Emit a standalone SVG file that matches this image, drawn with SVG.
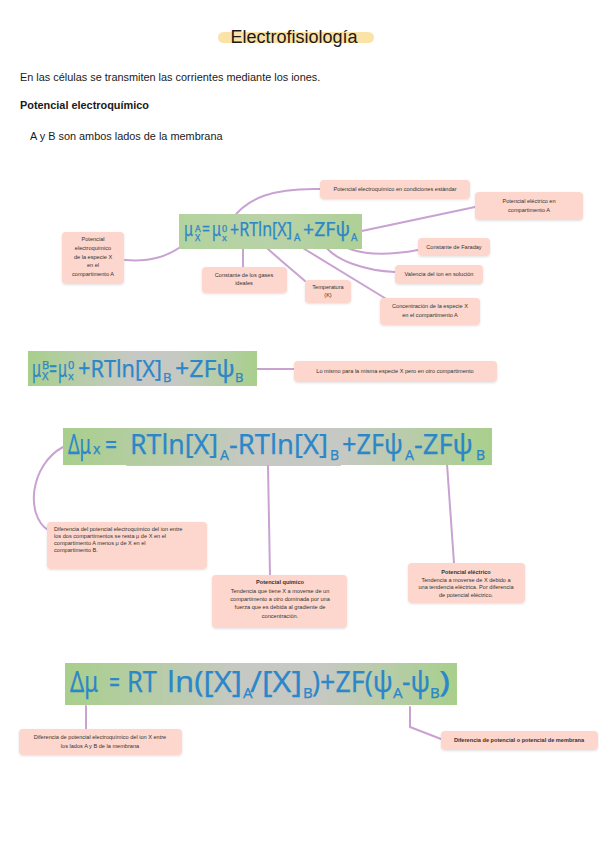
<svg xmlns="http://www.w3.org/2000/svg" width="599" height="848" viewBox="0 0 599 848">
<defs>
<linearGradient id="g1" x1="0" y1="0" x2="1" y2="0">
<stop offset="0" stop-color="#a8cf8c"/><stop offset="0.45" stop-color="#c6c9c3"/><stop offset="0.65" stop-color="#c6c9c3"/><stop offset="1" stop-color="#a8cf8c"/>
</linearGradient>
<linearGradient id="g0" x1="0" y1="0" x2="1" y2="0">
<stop offset="0" stop-color="#b3d39e"/><stop offset="0.5" stop-color="#b9d2a8"/><stop offset="1" stop-color="#aed096"/>
</linearGradient>
<filter id="sh" x="-10%" y="-10%" width="120%" height="130%"><feDropShadow dx="0" dy="1" stdDeviation="0.8" flood-color="#000" flood-opacity="0.12"/></filter>
</defs>
<style>
.body{font-family:"Liberation Sans",Arial,sans-serif;fill:#1a1a1a}
.box{fill:#fdd7cd;filter:url(#sh)}
.lbl{font-family:"Liberation Sans",Arial,sans-serif;font-size:5.6px;fill:#333}
.lb{font-weight:bold}
.f{font-family:"Noto Sans","Open Sans",sans-serif;fill:#2c87c9;stroke:#2c87c9;stroke-width:0.25}
.con{fill:none;stroke:#c9a2d2;stroke-width:2;stroke-linecap:round}
.br{fill:none;stroke:#c9a2d2;stroke-width:1.6}
</style>
<rect width="599" height="848" fill="#fff"/>

<g id="title">
<rect x="218" y="32" width="156" height="11" rx="5.5" fill="#fbe2a6"/>
<text class="body" x="294" y="43" font-size="18" text-anchor="middle">Electrofisiología</text>
</g>
<text class="body" x="20" y="81" font-size="10.9">En las células se transmiten las corrientes mediante los iones.</text>
<text class="body" x="20" y="109" font-size="10.9" font-weight="bold">Potencial electroquímico</text>
<text class="body" x="30" y="140" font-size="10.9">A y B son ambos lados de la membrana</text>

<g id="connectors">
<path class="con" d="M125 260 C150 262 168 257 186 243"/>
<path class="con" d="M232 219 C248 198 272 188 320 189"/>
<path class="con" d="M357 232 L475 207"/>
<path class="con" d="M333 238 C350 256 385 256 418 250"/>
<path class="con" d="M322 241 C332 262 370 271 395 272"/>
<path class="con" d="M243 248 L243 267"/>
<path class="con" d="M256 238 C275 256 290 268 305 281"/>
<path class="con" d="M293 242 L388 300"/>
<path class="con" d="M257 369 L295 369"/>
<path class="br" d="M127 454 L127 465 L340 465 L340 452"/>
<path class="br" d="M351 461 L351 463.5 L485 463.5 L485 455"/>
<path class="con" d="M268 466 L270 575"/>
<path class="con" d="M447 464 L454 563"/>
<path class="con" d="M63 447 C30 465 25 515 48 530"/>
<path class="con" d="M86 706 L86 730"/>
<path class="con" d="M410 707 L410 727 L441 739"/>
</g>

<g id="formula1">
<rect x="179" y="214" width="183" height="35" fill="url(#g0)"/>
<text class="f" x="184" y="236" font-size="19" textLength="9" lengthAdjust="spacingAndGlyphs">μ</text>
<text class="f" x="195" y="232" font-size="9">A</text>
<text class="f" x="195" y="241" font-size="9">X</text>
<text class="f" x="202" y="236" font-size="19" textLength="8" lengthAdjust="spacingAndGlyphs">=</text>
<text class="f" x="212" y="236" font-size="19" textLength="9" lengthAdjust="spacingAndGlyphs">μ</text>
<text class="f" x="222" y="232" font-size="9">0</text>
<text class="f" x="222" y="241" font-size="9">x</text>
<text class="f" x="230" y="236" font-size="19" textLength="62" lengthAdjust="spacingAndGlyphs">+RTln[X]</text>
<text class="f" x="294" y="241" font-size="10">A</text>
<text class="f" x="303" y="236" font-size="19" textLength="47" lengthAdjust="spacingAndGlyphs">+ZFψ</text>
<text class="f" x="351" y="241" font-size="10">A</text>
</g>

<g id="n-mu-a">
<rect class="box" x="62" y="232" width="62" height="52" rx="4"/>
<text class="lbl" text-anchor="middle"><tspan x="93" y="241">Potencial</tspan><tspan x="93" y="250">electroquímico</tspan><tspan x="93" y="259">de la especie X</tspan><tspan x="93" y="267">en el</tspan><tspan x="93" y="276">compartimento A</tspan></text>
</g>
<g id="n-std">
<rect class="box" x="320" y="180" width="150" height="19" rx="4"/>
<text class="lbl" x="395" y="191" text-anchor="middle">Potencial electroquímico en condiciones estándar</text>
</g>
<g id="n-psi">
<rect class="box" x="475" y="192" width="108" height="28" rx="4"/>
<text class="lbl" text-anchor="middle"><tspan x="529" y="203">Potencial eléctrico en</tspan><tspan x="529" y="212">compartimento A</tspan></text>
</g>
<g id="n-faraday">
<rect class="box" x="418" y="238" width="72" height="18" rx="4"/>
<text class="lbl" x="454" y="249" text-anchor="middle">Constante de Faraday</text>
</g>
<g id="n-valencia">
<rect class="box" x="395" y="265" width="88" height="19" rx="4"/>
<text class="lbl" x="439" y="276" text-anchor="middle">Valencia del ion en solución</text>
</g>
<g id="n-gases">
<rect class="box" x="202" y="267" width="85" height="26" rx="4"/>
<text class="lbl" text-anchor="middle"><tspan x="244" y="277">Constante de los gases</tspan><tspan x="244" y="285">ideales</tspan></text>
</g>
<g id="n-temp">
<rect class="box" x="305" y="280" width="46" height="23" rx="4"/>
<text class="lbl" text-anchor="middle"><tspan x="328" y="289">Temperatura</tspan><tspan x="328" y="297">(K)</tspan></text>
</g>
<g id="n-conc">
<rect class="box" x="380" y="298" width="100" height="27" rx="4"/>
<text class="lbl" text-anchor="middle"><tspan x="430" y="308">Concentración de la especie X</tspan><tspan x="430" y="317">en el compartimento A</tspan></text>
</g>

<g id="formula2">
<rect x="28" y="351" width="229" height="35" fill="url(#g1)"/>
<text class="f" x="32" y="377" font-size="23" textLength="9" lengthAdjust="spacingAndGlyphs">μ</text>
<text class="f" x="42" y="369" font-size="11">B</text>
<text class="f" x="42" y="380" font-size="11">X</text>
<text class="f" x="49" y="377" font-size="23" textLength="8" lengthAdjust="spacingAndGlyphs">=</text>
<text class="f" x="58" y="377" font-size="23" textLength="9" lengthAdjust="spacingAndGlyphs">μ</text>
<text class="f" x="68" y="369" font-size="11">0</text>
<text class="f" x="68" y="380" font-size="11">x</text>
<text class="f" x="78" y="377" font-size="23" textLength="84" lengthAdjust="spacingAndGlyphs">+RTln[X]</text>
<text class="f" x="163" y="382" font-size="13">B</text>
<text class="f" x="175" y="377" font-size="23" textLength="60" lengthAdjust="spacingAndGlyphs">+ZFψ</text>
<text class="f" x="235" y="382" font-size="13">B</text>
</g>
<g id="n-same">
<rect class="box" x="294" y="361" width="203" height="21" rx="4"/>
<text class="lbl" x="395" y="373" text-anchor="middle">Lo mismo para la misma especie X pero en otro compartimento</text>
</g>

<g id="formula3">
<rect x="63" y="428" width="429" height="37" fill="url(#g1)"/>
<text class="f" x="68" y="454" font-size="27" textLength="23" lengthAdjust="spacingAndGlyphs">Δμ</text>
<text class="f" x="93" y="454" font-size="14">x</text>
<text class="f" x="105" y="454" font-size="27" textLength="12" lengthAdjust="spacingAndGlyphs">=</text>
<text class="f" x="130" y="454" font-size="27" textLength="88" lengthAdjust="spacingAndGlyphs">RTln[X]</text>
<text class="f" x="220" y="460" font-size="14">A</text>
<text class="f" x="229" y="454" font-size="27" textLength="99" lengthAdjust="spacingAndGlyphs">-RTln[X]</text>
<text class="f" x="330" y="460" font-size="14">B</text>
<text class="f" x="342" y="454" font-size="27" textLength="61" lengthAdjust="spacingAndGlyphs">+ZFψ</text>
<text class="f" x="405" y="460" font-size="14">A</text>
<text class="f" x="414" y="454" font-size="27" textLength="59" lengthAdjust="spacingAndGlyphs">-ZFψ</text>
<text class="f" x="476" y="460" font-size="14">B</text>
</g>
<g id="n-diff">
<rect class="box" x="47" y="522" width="160" height="47" rx="4"/>
<text class="lbl"><tspan x="54" y="531">Diferencia del potencial electroquímico del ion entre</tspan><tspan x="54" y="538">los dos compartimentos se resta μ de X en el</tspan><tspan x="54" y="545">compartimento A menos μ de X en el</tspan><tspan x="54" y="552">compartimento B.</tspan></text>
</g>
<g id="n-quim">
<rect class="box" x="212" y="575" width="135" height="53" rx="4"/>
<text class="lbl" text-anchor="middle"><tspan x="280" y="584" class="lb">Potencial químico</tspan><tspan x="280" y="593">Tendencia que tiene X a moverse de un</tspan><tspan x="280" y="601">compartimento a otro dominada por una</tspan><tspan x="280" y="609">fuerza que es debida al gradiente de</tspan><tspan x="280" y="618">concentración.</tspan></text>
</g>
<g id="n-elec">
<rect class="box" x="408" y="563" width="117" height="40" rx="4"/>
<text class="lbl" text-anchor="middle"><tspan x="466" y="574" class="lb">Potencial eléctrico</tspan><tspan x="466" y="582">Tendencia a moverse de X debido a</tspan><tspan x="466" y="589">una tendencia eléctrica. Por diferencia</tspan><tspan x="466" y="597">de potencial eléctrico.</tspan></text>
</g>

<g id="formula4">
<rect x="65" y="663" width="392" height="42" fill="url(#g1)"/>
<text class="f" x="70" y="692" font-size="29" textLength="28" lengthAdjust="spacingAndGlyphs">Δμ</text>
<text class="f" x="109" y="692" font-size="29" textLength="11" lengthAdjust="spacingAndGlyphs">=</text>
<text class="f" x="127" y="692" font-size="29" textLength="30" lengthAdjust="spacingAndGlyphs">RT</text>
<text class="f" x="167" y="692" font-size="29" textLength="75" lengthAdjust="spacingAndGlyphs">ln([X]</text>
<text class="f" x="243" y="698" font-size="15">A</text>
<text class="f" x="250" y="692" font-size="29" textLength="52" lengthAdjust="spacingAndGlyphs">/[X]</text>
<text class="f" x="303" y="698" font-size="15">B</text>
<text class="f" x="312" y="692" font-size="29" textLength="81" lengthAdjust="spacingAndGlyphs">)+ZF(ψ</text>
<text class="f" x="393" y="698" font-size="15">A</text>
<text class="f" x="402" y="692" font-size="29" textLength="28" lengthAdjust="spacingAndGlyphs">-ψ</text>
<text class="f" x="430" y="698" font-size="15">B</text>
<text class="f" x="439" y="692" font-size="29" textLength="11" lengthAdjust="spacingAndGlyphs">)</text>
</g>
<g id="n-diff2">
<rect class="box" x="19" y="729" width="163" height="26" rx="4"/>
<text class="lbl" text-anchor="middle"><tspan x="100" y="739">Diferencia de potencial electroquímico del ion X entre</tspan><tspan x="100" y="748">los lados A y B de la membrana</tspan></text>
</g>
<g id="n-memb">
<rect class="box" x="441" y="731" width="157" height="19" rx="4"/>
<text class="lbl lb" x="519" y="742" text-anchor="middle">Diferencia de potencial o potencial de membrana</text>
</g>
</svg>
